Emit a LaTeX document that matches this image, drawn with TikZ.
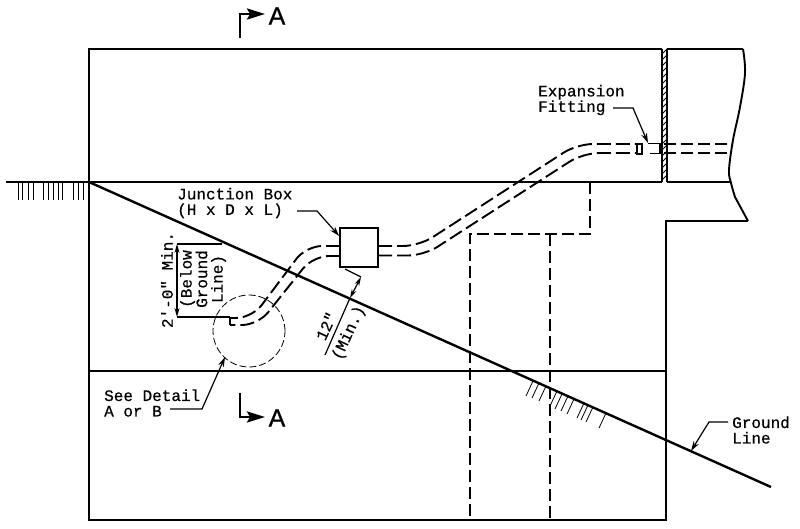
\documentclass[tikz,border=0pt]{standalone}
\usepackage{fontspec}
\setmainfont{Liberation Sans}
\newfontfamily\cadfont[FakeBold=0.5]{Liberation Mono}
\newfontfamily\sectionfont[FakeBold=1]{Liberation Sans}
\usetikzlibrary{arrows.meta}
\tikzstyle{outline} = [line width=1.9pt]
\tikzstyle{ground} = [line width=2.4pt]
\tikzstyle{hidden} = [line width=1.9pt,dash pattern=on 12pt off 5pt]
\tikzstyle{conduit} = [line width=1.9pt,dash pattern=on 14pt off 5pt,rounded corners=16pt]
\tikzstyle{thin} = [line width=0.8pt]
\tikzstyle{leader} = [line width=1.2pt,-{Stealth[length=10pt,width=6pt]}]
\tikzstyle{dimline} = [line width=1.2pt,{Stealth[length=9pt,width=5pt]}-{Stealth[length=9pt,width=5pt]}]
\tikzstyle{section} = [line width=2.6pt,-{Stealth[length=18pt,width=11pt,inset=3pt]}]
\tikzstyle{caption} = [inner sep=0pt,align=center,font=\cadfont\fontsize{16}{15.5}\selectfont]
\tikzstyle{letter} = [inner sep=0pt,font=\sectionfont\fontsize{25}{25}\selectfont]

\begin{document}
\begin{tikzpicture}[x=1pt,y=-1pt]
	\useasboundingbox (0,0) rectangle (800,528);

	\draw[outline] (662,49) -- (89,49) -- (89,520) -- (666,520) -- (666,221) -- (748,221);
	\draw[outline] (89,182) -- (662,182);
	\draw[outline] (667,182) -- (731,182);
	\draw[outline] (89,371) -- (666,371);
	\draw[outline] (667,49) -- (743,49);
	\draw[outline] plot[smooth,tension=0.6] coordinates {(743,49) (745,73) (740,107) (733,140) (729,170) (731,183) (735,197)} -- (748,221);

	\draw[outline] (662,49) -- (662,182);
	\draw[outline] (667,49) -- (667,182);
	\foreach \y in {54,60,...,180}
		\draw[thin] (662,\y) -- (667,\y-5);

	\draw[outline] (6,182) -- (89,182);
	\foreach \x in {18,22,28,33,43,48,53,58,62,73,78,83}
		\draw[thin] (\x,182) -- (\x,200);

	\coordinate (gStart) at (89,182);
	\coordinate (gEnd) at (771,487);
	\draw[ground] (gStart) -- (gEnd);
	\foreach \x/\y in {533/381,539/383,546/386,557/391,562/394,568/396,574/399,584/403,588/405,593/407,606/413}
		\draw[thin] (\x,\y) -- (\x-7,\y+15);

	\draw[hidden] (590,182) -- (590,234) -- (470,234) -- (470,520);
	\draw[hidden] (550,234) -- (550,520);

	\node[draw,line width=1.6pt,minimum width=38pt,minimum height=39pt,inner sep=0pt] (nBox) at (359,247.5) {};

	\coordinate (cUpperA) at (340,246);
	\coordinate (cUpperB) at (306,246);
	\coordinate (cUpperC) at (252,318);
	\coordinate (cUpperD) at (230,318);
	\coordinate (cLowerA) at (340,256);
	\coordinate (cLowerB) at (313,256);
	\coordinate (cLowerC) at (258,325);
	\coordinate (cLowerD) at (230,325);
	\draw[conduit] (cUpperA) -- (cUpperB) -- (cUpperC) -- (cUpperD);
	\draw[conduit] (cLowerA) -- (cLowerB) -- (cLowerC) -- (cLowerD);
	\draw[line width=1.5pt] (cUpperD) -- (cLowerD);

	\coordinate (cRightA) at (378,246);
	\coordinate (cRightB) at (419,246);
	\coordinate (cRightC) at (577,144);
	\coordinate (cRightD) at (636,144);
	\coordinate (cRightE) at (378,255.5);
	\coordinate (cRightF) at (424,255.5);
	\coordinate (cRightG) at (583,153);
	\coordinate (cRightH) at (636,153);
	\draw[conduit] (cRightA) -- (cRightB) -- (cRightC) -- (cRightD);
	\draw[conduit] (cRightE) -- (cRightF) -- (cRightG) -- (cRightH);

	\draw[line width=2pt] (637,144) rectangle (641.5,153.5);
	\draw[line width=1.3pt] (648,143.5) -- (660,143.5);
	\draw[line width=1.9pt] (650,153.5) -- (662,153.5);
	\draw[line width=2.4pt] (660,143) -- (660,154);
	\draw[hidden] (664,144) -- (733,144);
	\draw[hidden] (664,153) -- (730,153);

	\node[caption,align=left,anchor=west] (nExpansion) at (538,100) {Expansion\\Fitting};
	\coordinate (eMid) at (633,108);
	\coordinate (eTip) at (648,143);
	\draw[leader] (613,108) -- (eMid) -- (eTip);

	\node[caption,align=left,anchor=west] (nJunction) at (177,203) {Junction Box\\(H x D x L)};
	\coordinate (jMid) at (317,211);
	\draw[leader] (297,211) -- (jMid) -- (nBox.west |- 0,236);

	\node[caption,rotate=90] (nMin) at (167,280) {2'-0" Min.};
	\node[caption,rotate=90] (nBelow) at (203,279) {(Below\\Ground\\Line)};
	\coordinate (dTop) at (177,244);
	\coordinate (dBot) at (177,317);
	\draw[line width=1.2pt] (dTop) -- (222,244);
	\draw[line width=1.6pt] (dBot) -- (230,317);
	\draw[dimline] (dTop) -- (dBot);

	\coordinate (tFoot) at (345,269);
	\coordinate (tElbow) at (361,277);
	\coordinate (tGround) at (350,298);
	\coordinate (tEnd) at (325,355);
	\draw[line width=1.2pt] (tFoot) -- (tElbow);
	\draw[dimline] (tElbow) -- (tGround);
	\draw[line width=1.2pt] (tGround) -- (tEnd);
	\node[caption,rotate=65] (nTwelve) at (326,326) {12"};
	\node[caption,rotate=65] (nMinB) at (349,333) {(Min.)};

	\node[draw,thin,dash pattern=on 7pt off 3pt,circle,minimum size=72pt,inner sep=0pt] (nDetail) at (249,331) {};
	\node[caption,align=left,anchor=west] (nSee) at (104,403) {See Detail\\A or B};
	\coordinate (sMid) at (202,409);
	\draw[leader] (170,409) -- (sMid) -- (225,357);

	\node[caption,align=left,anchor=west] (nGround) at (732,430) {Ground\\Line};
	\coordinate (gMid) at (709,422);
	\draw[leader] (728,422) -- (gMid) -- (691,451);

	\coordinate (aTop) at (240,14);
	\coordinate (aBot) at (240,417);
	\node[letter] (nTopA) at (277,16) {A};
	\node[letter] (nBotA) at (277,418) {A};
	\draw[section] (240,38) -- (aTop) -- (265,14);
	\draw[section] (240,393) -- (aBot) -- (265,417);
	\end{tikzpicture}
\end{document}
